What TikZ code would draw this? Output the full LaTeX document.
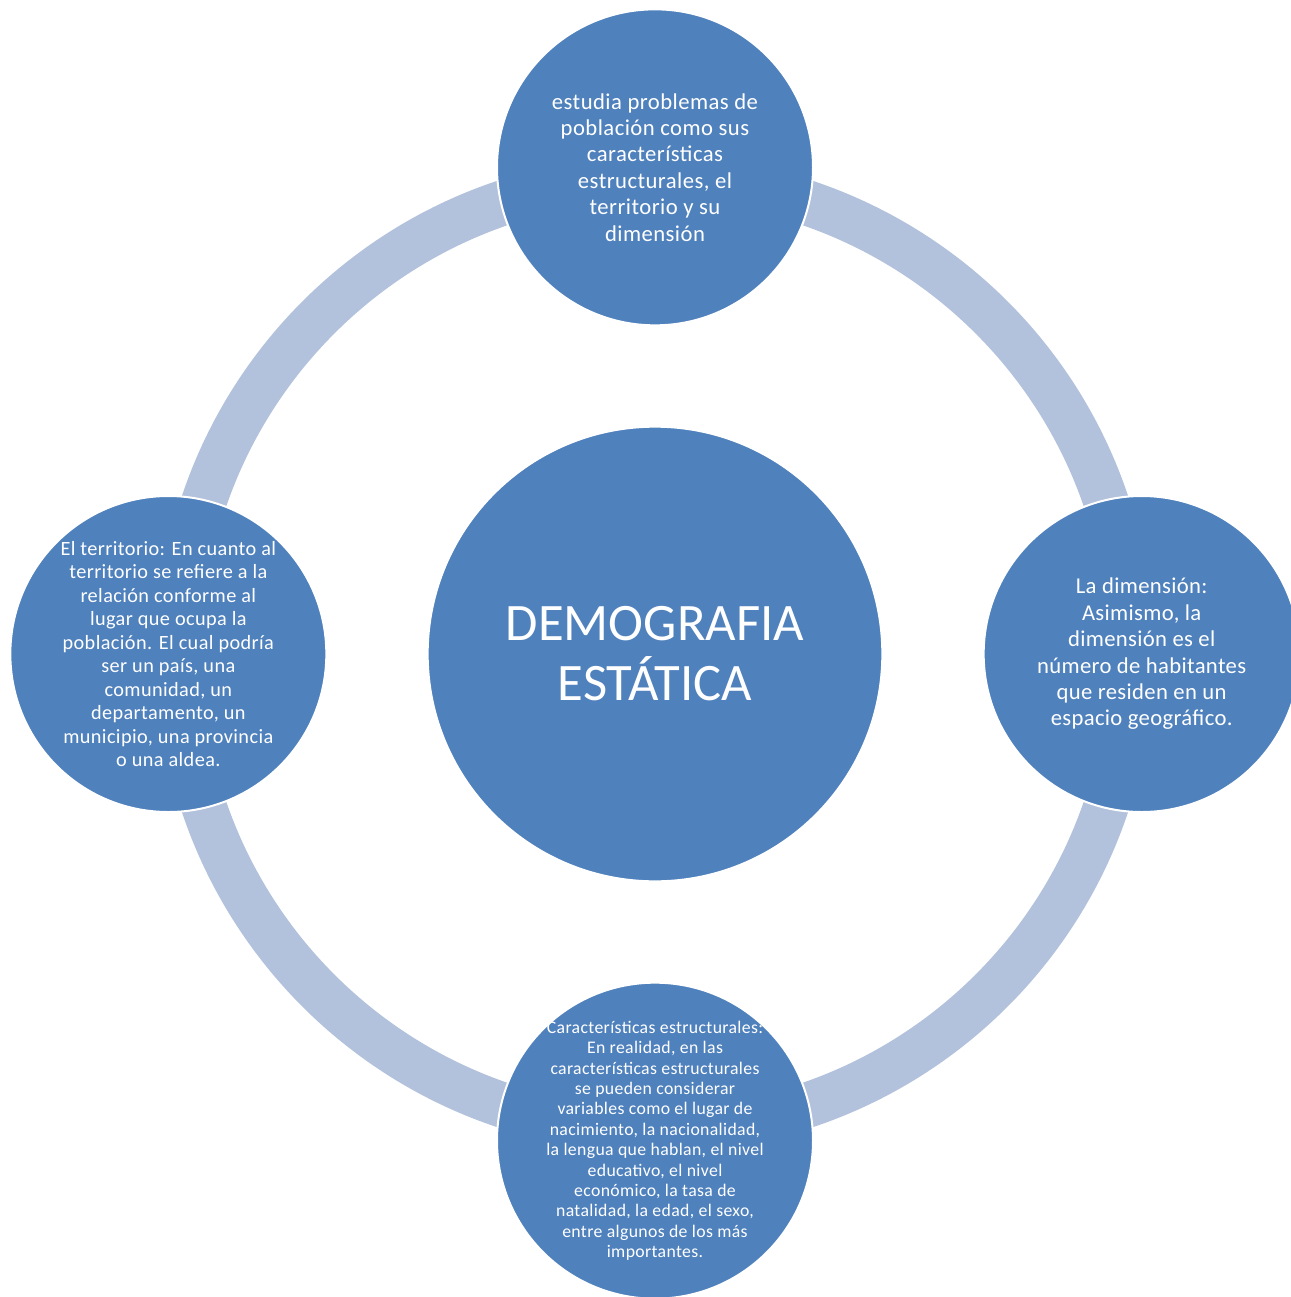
\documentclass[tikz,border=0pt]{standalone}
\usepackage{fontspec}
\setmainfont{Carlito}
\usetikzlibrary{positioning}
\definecolor{bubbleblue}{RGB}{79,129,189}
\definecolor{ringblue}{RGB}{178,193,220}
\tikzset{
    bubble/.style={
           circle,
           fill=bubbleblue,
           draw=white, line width=1.5pt,
           minimum size=237pt,
           inner sep=0pt,
           },
    bubbletext/.style={
           text=white,
           align=center,
           inner sep=0pt,
           },
    ring/.style={
           draw=ringblue,
           line width=34pt,
           },
}

\begin{document}
\begin{tikzpicture}[x=0.75pt,y=-0.75pt]

 % page size of the reference (pixels)
 \useasboundingbox (0,0) rectangle (1291,1297);

 % the ring goes behind everything
 \coordinate (hub) at (655,654);
 \draw[ring] (hub) circle (476);

 % Centre node
 \node[bubble, minimum size=341pt] (Demo) at (hub) {};
 \node[bubbletext, font=\fontsize{39.5}{45}\selectfont] (DemoText) at (Demo)
 {DEMOGRAFIA\\ ESTÁTICA};

 % the four bubbles round the centre
 \node[bubble, above of=Demo, node distance=365pt] (Top) {};
 \node[bubble, right of=Demo, node distance=365pt] (Right) {};
 \node[bubble, below of=Demo, node distance=365pt] (Bottom) {};
 \node[bubble, left of=Demo, node distance=365pt] (Left) {};

 % texts of the bubbles (a little letter spacing, as in the original)
 \node[bubbletext, font=\fontsize{17}{19.8}\selectfont\addfontfeature{LetterSpace=2}] (TopText) at (Top)
 {estudia problemas de\\ población como sus\\ características\\
  estructurales, el\\ territorio y su\\ dimensión};

 \node[bubbletext, font=\fontsize{17}{19.8}\selectfont\addfontfeature{LetterSpace=1.5}] (RightText) at (Right)
 {La dimensión:\\ Asimismo, la\\ dimensión es el\\ número de habitantes\\
  que residen en un\\ espacio geográfico.};

 \node[bubbletext, font=\fontsize{13.3}{15.3}\selectfont\addfontfeature{LetterSpace=2}] (BottomText) at (Bottom)
 {Características estructurales:\\ En realidad, en las\\ características estructurales\\
  se pueden considerar\\ variables como el lugar de\\ nacimiento, la nacionalidad,\\
  la lengua que hablan, el nivel\\ educativo, el nivel\\ económico, la tasa de\\
  natalidad, la edad, el sexo,\\ entre algunos de los más\\ importantes.};

 \node[bubbletext, font=\fontsize{15.2}{17.6}\selectfont\addfontfeature{LetterSpace=2}] (LeftText) at (Left)
 {El territorio: En cuanto al\\ territorio se refiere a la\\ relación conforme al\\
  lugar que ocupa la\\ población. El cual podría\\ ser un país, una\\ comunidad, un\\
  departamento, un\\ municipio, una provincia\\ o una aldea.};

\end{tikzpicture}
\end{document}
